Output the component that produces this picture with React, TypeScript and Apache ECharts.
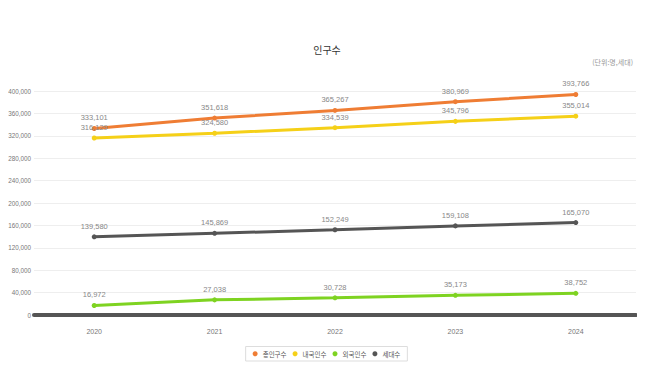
import React, { useEffect, useRef } from "react";
import * as echarts from "echarts";

const years = ["2020", "2021", "2022", "2023", "2024"];
const totalPop = [333101, 351618, 365267, 380969, 393766];
const nativePop = [316129, 324580, 334539, 345796, 355014];
const foreignPop = [16972, 27038, 30728, 35173, 38752];
const households = [139580, 145869, 152249, 159108, 165070];
const seriesNames = ["총인구수", "내국인수", "외국인수", "세대수"];
const colors = ["#ef7d34", "#f5d018", "#7ed321", "#555555"];

const FONT = "'Noto Sans CJK KR', sans-serif";
const NUMFONT = "'Liberation Sans', Arial, sans-serif";

export default function App() {
  const ref = useRef<HTMLDivElement>(null);
  useEffect(() => {
    if (!ref.current) return;
    const chart = echarts.init(ref.current, undefined, { renderer: "svg" });
    const datasets = [totalPop, nativePop, foreignPop, households];
    chart.setOption({
      animation: false,
      textStyle: { fontFamily: FONT },
      title: {
        text: "인구수",
        left: 314,
        top: 31,
        textAlign: "center",
        textStyle: { fontSize: 10, fontWeight: "normal", color: "#333", fontFamily: FONT },
      },
      graphic: [
        {
          type: "text",
          right: 12,
          top: 50,
          style: { text: "(단위:명,세대)", fontSize: 7, fill: "#999", fontFamily: FONT },
        },
      ],
      legend: {
        bottom: 6,
        left: "center",
        itemWidth: 5,
        itemHeight: 5,
        itemGap: 6,
        icon: "circle",
        borderColor: "#ddd",
        borderWidth: 1,
        borderRadius: 0,
        padding: [4, 7],
        textStyle: { fontSize: 6.5, color: "#555", fontFamily: FONT },
        data: seriesNames,
      },
      grid: {
        left: 26,
        right: 9,
        top: 83,
        bottom: 52,
        containLabel: false,
        outerBoundsMode: "none",
      },
      xAxis: {
        type: "category",
        data: years,
        boundaryGap: true,
        axisLine: { lineStyle: { color: "#555", width: 4 } },
        axisTick: { show: false },
        axisLabel: { fontSize: 7, color: "#777", margin: 13, fontFamily: NUMFONT },
      },
      yAxis: {
        type: "value",
        min: 0,
        max: 400000,
        interval: 40000,
        axisLabel: {
          fontSize: 6.3,
          color: "#777",
          margin: 3,
          fontFamily: NUMFONT,
          formatter: (v: number) => v.toLocaleString("en-US"),
        },
        splitLine: { lineStyle: { color: "#eee" } },
        axisLine: { show: false },
        axisTick: { show: false },
      },
      series: datasets.map((d, i) => ({
        name: seriesNames[i],
        type: "line",
        data: d,
        color: colors[i],
        symbol: "circle",
        symbolSize: 5,
        lineStyle: { width: 3 },
        label: {
          show: true,
          position: "top",
          distance: 4,
          fontSize: 7.5,
          color: "#888",
          fontFamily: NUMFONT,
          formatter: (p: any) => Number(p.value).toLocaleString("en-US"),
        },
      })),
    });
    return () => chart.dispose();
  }, []);
  return <div ref={ref} style={{ width: 637, height: 359 }} />;
}
